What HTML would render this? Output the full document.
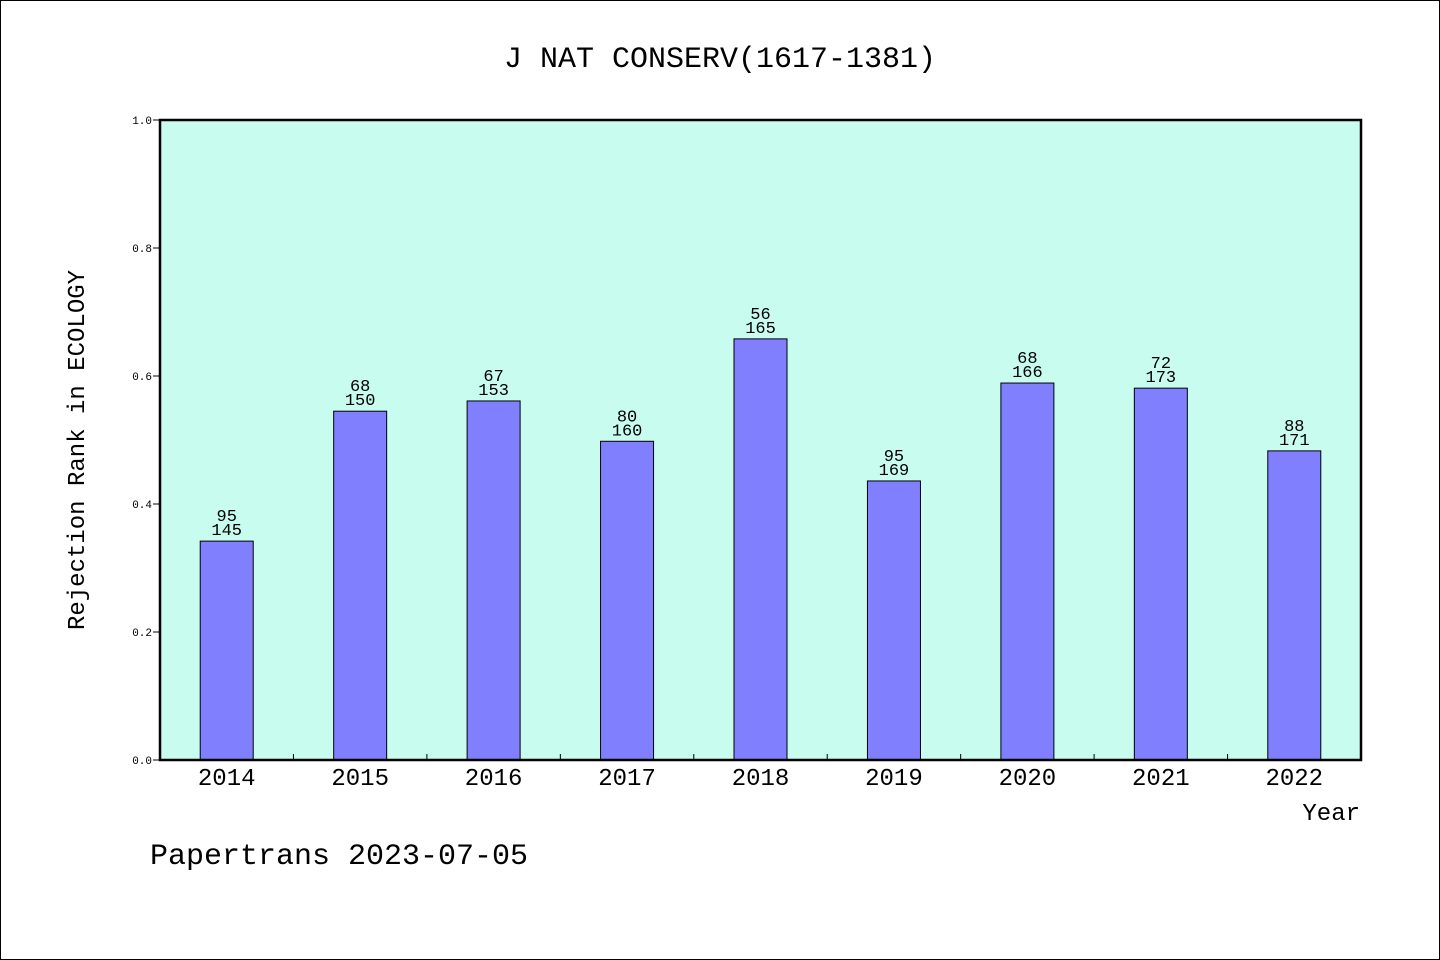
<!DOCTYPE html>
<html><head><meta charset="utf-8"><style>
html,body{margin:0;padding:0;background:#fff}
svg{display:block}
text{font-family:"WenQuanYi Zen Hei","Liberation Mono",monospace;fill:#000}
</style></head><body>
<svg id="chart" width="1440" height="960" xmlns="http://www.w3.org/2000/svg">
<rect x="0.5" y="0.5" width="1439" height="959" fill="#fff" stroke="#000" stroke-width="1"/>
<text x="720" y="67" font-size="30" text-anchor="middle">J NAT CONSERV(1617-1381)</text>
<rect x="160" y="120" width="1201" height="640" fill="#c8fcee"/>
<g id="marks"></g>
<rect x="160" y="120" width="1201" height="640" fill="none" stroke="#000" stroke-width="2.5"/>
<text transform="translate(84,450) rotate(-90)" font-size="24" text-anchor="middle">Rejection Rank in ECOLOGY</text>
<text x="1360" y="820" font-size="24" text-anchor="end">Year</text>
<text x="150" y="864" font-size="30">Papertrans 2023-07-05</text>
</svg>
<script>
const categories=["2014","2015","2016","2017","2018","2019","2020","2021","2022"];
const values=[0.342,0.545,0.561,0.498,0.658,0.436,0.589,0.581,0.483];
const rankLabels=["95","68","67","80","56","95","68","72","88"];
const totalLabels=["145","150","153","160","165","169","166","173","171"];
const yTicks=[0,0.2,0.4,0.6,0.8,1.0];
const yTickLabels=["0.0","0.2","0.4","0.6","0.8","1.0"];

const X0=160,X1=1361,Y0=760,Y1=120;
const band=(X1-X0)/categories.length;
const xc=i=>X0+band*(i+0.5);
const y=v=>Y0-(v)*(Y0-Y1);
const NS="http://www.w3.org/2000/svg";
const g=document.getElementById('marks');
function mk(tag,attrs,txt){const e=document.createElementNS(NS,tag);for(const k in attrs)e.setAttribute(k,attrs[k]);if(txt!==undefined)e.textContent=txt;g.appendChild(e);return e;}

yTicks.forEach((t,i)=>{
  const l=mk('line',{x1:X0-7,x2:X0,y1:y(t),y2:y(t),stroke:'#000','stroke-width':1});
  
  
  const tx=mk('text',{x:X0-8,y:y(t)+4,'font-size':11,'text-anchor':'end'},yTickLabels[i]);
  
  
});
for(let i=1;i<categories.length;i++){
  const xx=X0+band*i;
  const l=mk('line',{x1:xx,x2:xx,y1:Y0,y2:Y0-6,stroke:'#000','stroke-width':1});
  
  
}
const bw=53;
categories.forEach((c,i)=>{
  const top=y(values[i]);
  const r=mk('rect',{x:xc(i)-bw/2,y:top,width:bw,height:Y0-top,fill:'#8080ff',stroke:'#000','stroke-width':1});
  
  
  const t1=mk('text',{x:xc(i),y:top-20,'font-size':17,'text-anchor':'middle'},rankLabels[i]);
  
  
  const t2=mk('text',{x:xc(i),y:top-6,'font-size':17,'text-anchor':'middle'},totalLabels[i]);
  
  
  const xl=mk('text',{x:xc(i),y:785,'font-size':24,'text-anchor':'middle'},c);
  
  
});
</script>
</body></html>
